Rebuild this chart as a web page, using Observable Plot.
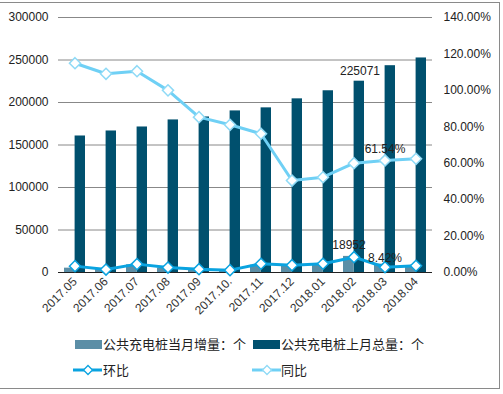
<!DOCTYPE html>
<html><head><meta charset="utf-8">
<script src="https://cdn.jsdelivr.net/npm/d3@7"></script>
<script src="https://cdn.jsdelivr.net/npm/@observablehq/plot@0.6"></script>
<style>
body{margin:0;background:#fff;font-family:"Liberation Sans",Arial,sans-serif;}
#frame{position:absolute;left:-1px;top:2px;width:499px;height:385px;border:1px solid #8a8a8a;}
#chart{position:absolute;left:0;top:0;}
.lg{position:absolute;font-family:"Noto Sans CJK SC",sans-serif;font-size:13px;color:#222;line-height:16px;white-space:nowrap;}
.sw{position:absolute;}
</style></head><body>
<div id="frame"></div>
<div id="chart"></div>
<div id="legend"></div>
<script>
const categories = ["2017.05","2017.06","2017.07","2017.08","2017.09","2017.10.","2017.11","2017.12","2018.01","2018.02","2018.03","2018.04"];
const increment = [5100, 4300, 9000, 5100, 4300, 3500, 8600, 8600, 10000, 18952, 9800, 6600];
const total = [160600, 166500, 171200, 179500, 183000, 190100, 193700, 204300, 213800, 225071, 243300, 252400];
const huanbi = [3.5, 1.6, 4.6, 2.7, 1.8, 1.3, 4.8, 4.0, 4.8, 8.42, 2.9, 3.7];
const tongbi = [114.9, 109.1, 110.5, 100.0, 85.3, 81.1, 76.2, 50.5, 52.3, 60.0, 61.54, 62.4];
const leftTicks = [0, 50000, 100000, 150000, 200000, 250000, 300000];
const pctTicks = [0, 20, 40, 60, 80, 100, 120, 140];
const totalLabel = [{c:"2018.02", v:225071, t:"225071"}];
const incLabel = [{c:"2018.02", v:18952, t:"18952"}];
const tbLabel = [{c:"2018.03", v:61.54, t:"61.54%"}];
const hbLabel = [{c:"2018.03", v:8.42, t:"8.42%"}];
const legendNames = ["公共充电桩当月增量：个", "公共充电桩上月总量：个", "环比", "同比"];

const K = 300000 / 140;
const rows = categories.map((c, i) => ({c, inc: increment[i], tot: total[i], hb: huanbi[i] * K, tb: tongbi[i] * K}));
const C = {light: "#5b8ea6", dark: "#00506e", hb: "#0aa3e0", tb: "#6fd0f5", tbm: "#8fdaf6"};
const pct = arr => arr.map(d => ({...d, y: d.v * K}));

const chart = Plot.plot({
  width: 503, height: 330,
  marginTop: 17, marginBottom: 58, marginLeft: 58, marginRight: 71,
  style: {fontFamily: "Liberation Sans, Arial, sans-serif", fontSize: "12px", color: "#222", background: "transparent", overflow: "visible"},
  x: {type: "band", domain: categories, padding: 0},
  y: {domain: [0, 300000]},
  marks: [
    Plot.gridY(leftTicks, {stroke: "#888", strokeOpacity: 1}),
    Plot.axisY(leftTicks, {anchor: "left", tickSize: 0, tickPadding: 10, tickFormat: d => String(d), label: null}),
    Plot.axisY(pctTicks.map(p => p * K), {anchor: "right", tickSize: 0, tickPadding: 11, tickFormat: v => (v / K).toFixed(2) + "%", label: null}),
    Plot.axisX({tickSize: 0, tickRotate: -45, tickPadding: 7, label: null, fill: "#333"}),
    Plot.barY(rows, {x: "c", y: "inc", fill: C.light, insetLeft: 5, insetRight: 15.6}),
    Plot.barY(rows, {x: "c", y: "tot", fill: C.dark, insetLeft: 15.6, insetRight: 5}),
    Plot.ruleY([0], {stroke: "#222", strokeWidth: 1.2}),
    Plot.line(rows, {x: "c", y: "tb", stroke: C.tb, strokeWidth: 3}),
    Plot.line(rows, {x: "c", y: "hb", stroke: C.hb, strokeWidth: 3}),
    Plot.dot(rows, {x: "c", y: "tb", symbol: "diamond2", r: 5, fill: "white", stroke: C.tbm, strokeWidth: 1.5}),
    Plot.dot(rows, {x: "c", y: "hb", symbol: "diamond2", r: 5, fill: "white", stroke: C.hb, strokeWidth: 1.5}),
    Plot.text(totalLabel, {x: "c", y: "v", text: "t", dx: 6, dy: -10, fill: "#222", fontSize: 12}),
    Plot.text(incLabel, {x: "c", y: "v", text: "t", dx: -5, dy: -11, fill: "#222", fontSize: 12}),
    Plot.text(pct(tbLabel), {x: "c", y: "y", text: "t", dy: -11, fill: "#222", fontSize: 12}),
    Plot.text(pct(hbLabel), {x: "c", y: "y", text: "t", dy: 1, fill: "#222", fontSize: 12})
  ]
});
document.getElementById("chart").appendChild(chart);

const lg = document.getElementById("legend");
function sw(x, y, w, h, color) {
  const d = document.createElement("div");
  d.className = "sw";
  Object.assign(d.style, {left: x + "px", top: y + "px", width: w + "px", height: h + "px", background: color});
  lg.appendChild(d);
}
function txt(x, y, t) {
  const d = document.createElement("div");
  d.className = "lg";
  d.style.left = x + "px"; d.style.top = y + "px";
  d.textContent = t;
  lg.appendChild(d);
}
function lineSw(x, y, color, mcolor) {
  const ns = "http://www.w3.org/2000/svg";
  const s = document.createElementNS(ns, "svg");
  s.setAttribute("width", 30); s.setAttribute("height", 14);
  s.style.position = "absolute"; s.style.left = x + "px"; s.style.top = (y - 7) + "px";
  s.innerHTML = `<line x1="0" y1="7" x2="29" y2="7" stroke="${color}" stroke-width="3"/><path d="M15,2.5L19.5,7L15,11.5L10.5,7Z" fill="white" stroke="${mcolor}" stroke-width="1.3"/>`;
  lg.appendChild(s);
}
sw(75, 340, 27, 9, C.light); txt(103, 336, legendNames[0]);
sw(253, 340, 27, 9, C.dark); txt(281, 336, legendNames[1]);
lineSw(73, 370, C.hb, C.hb); txt(103, 362, legendNames[2]);
lineSw(252, 370, C.tb, C.tbm); txt(281, 362, legendNames[3]);
</script>
</body></html>
